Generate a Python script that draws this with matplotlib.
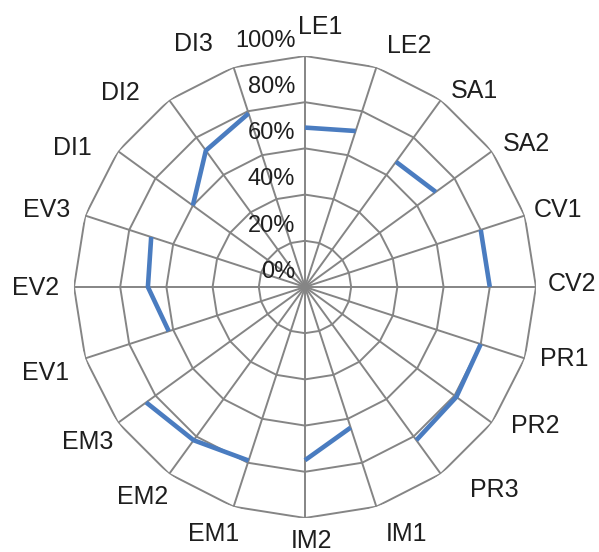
#%%
# Grafico de radar (estilo Excel) con segmentos por grupo de criterios
import numpy as np
import matplotlib.pyplot as plt

# datos
categorias = ['LE1', 'LE2', 'SA1', 'SA2', 'CV1', 'CV2', 'PR1', 'PR2', 'PR3', 'IM1',
              'IM2', 'EM1', 'EM2', 'EM3', 'EV1', 'EV2', 'EV3', 'DI1', 'DI2', 'DI3']
valores = [0.69, 0.71, 0.67, 0.70, 0.80, 0.80, 0.80, 0.81, 0.82, 0.64,
           0.75, 0.79, 0.82, 0.85, 0.62, 0.68, 0.70, 0.60, 0.73, 0.79]
niveles = [0.0, 0.2, 0.4, 0.6, 0.8, 1.0]
etiquetas_niveles = ['0%', '20%', '40%', '60%', '80%', '100%']

# ajustes finos de posicion de las etiquetas (pixeles, x derecha / y abajo)
ajustes = [(15, -2), (20, 4), (10, 13), (1, 9), (-6, 3), (-5, -3), (1, -8),
           (10, -13), (29, -6), (17, 2), (7, -4), (-7, 2), (-2, 1), (3, 3),
           (-1, 6), (3, 1), (0, 3), (-13, 13), (-25, 15), (-27, 2)]

plt.rcParams['font.family'] = ['Liberation Sans', 'DejaVu Sans']

gris = '#858585'
azul = '#4a7cc0'
texto = '#1e1e1e'

n = len(categorias)
ang = np.arange(n) * 2 * np.pi / n
val = np.array(valores)

fig = plt.figure(figsize=(5.99, 5.52), dpi=100)
ax = fig.add_axes([0.1235, 0.0616, 0.7713, 0.8370], projection='polar')
ax.set_theta_zero_location('N')
ax.set_theta_direction(-1)
ax.set_ylim(0, 1)
ax.grid(False)
ax.set_xticks([])
ax.set_yticks([])
ax.spines['polar'].set_visible(False)

# anillos poligonales
cerrado = np.append(ang, ang[0])
for r in niveles[1:]:
    ax.plot(cerrado, [r] * (n + 1), color=gris, lw=1.4, zorder=1)

# radios
for a in ang:
    ax.plot([a, a], [0, 1], color=gris, lw=1.4, zorder=1)

# una linea por grupo (LE, SA, CV, ...)
grupos = []
for i, c in enumerate(categorias):
    if grupos and categorias[grupos[-1][0]][:2] == c[:2]:
        grupos[-1].append(i)
    else:
        grupos.append([i])
for g in grupos:
    ax.plot(ang[g], val[g], color=azul, lw=3.3, solid_capstyle='butt',
            solid_joinstyle='round', zorder=3)

# etiquetas de porcentaje
for r, t in zip(niveles, etiquetas_niveles):
    ax.annotate(t, xy=(0, r), xytext=(-7, 11), textcoords='offset points',
                ha='right', va='center', fontsize=17, color=texto, zorder=4)

# etiquetas de categorias
lado = 462.0
for a, c, (dx, dy) in zip(ang, categorias, ajustes):
    x = 0.5 + 0.5 * (272 / 231) * np.sin(a) + dx / lado
    y = 0.5 + 0.5 * (258 / 231) * np.cos(a) - dy / lado
    ax.text(x, y, c, transform=ax.transAxes, ha='center', va='center',
            fontsize=18, color=texto, clip_on=False)

plt.savefig('out.png', dpi=100)
# %%
